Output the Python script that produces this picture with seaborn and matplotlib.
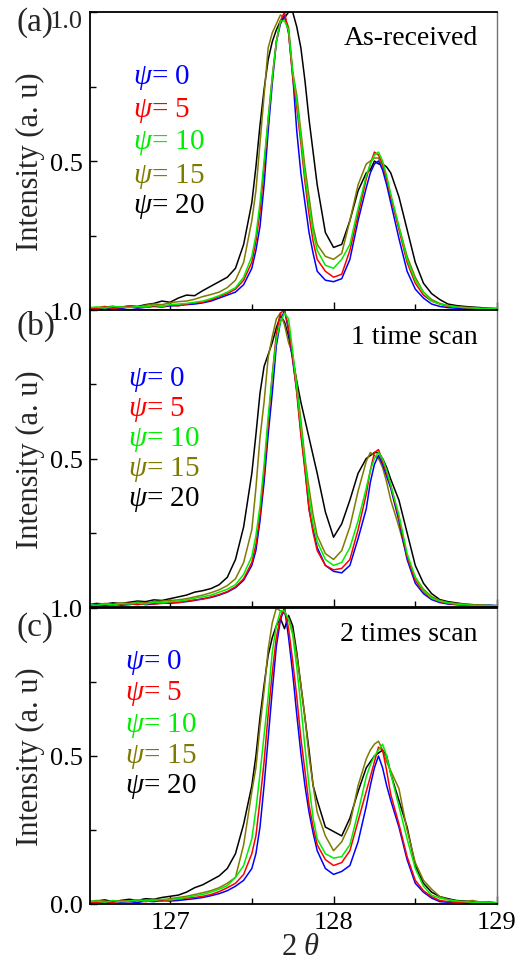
import numpy as np
import pandas as pd
import matplotlib
matplotlib.use("Agg")
import matplotlib.pyplot as plt
import seaborn as sns
from matplotlib.ticker import FixedLocator, FixedFormatter, NullFormatter

# ---------------- data ----------------
two_theta = [126.50, 126.55, 126.60, 126.65, 126.70, 126.75, 126.80, 126.85, 126.90, 126.95, 127.00,
             127.05, 127.10, 127.15, 127.20, 127.25, 127.30, 127.35, 127.40, 127.45, 127.50,
             127.525, 127.55, 127.575, 127.60, 127.625, 127.65, 127.675, 127.70, 127.725, 127.75,
             127.775, 127.80, 127.825, 127.85, 127.875, 127.90,
             127.95, 128.00, 128.05, 128.10, 128.15, 128.20,
             128.225, 128.25, 128.275, 128.30, 128.325, 128.35,
             128.40, 128.45, 128.50, 128.55, 128.60, 128.65, 128.70, 128.75, 128.80, 128.85,
             128.90, 128.95, 129.00]

psi_values = [0, 5, 10, 15, 20]
psi_colors = ["#0000ff", "#ff0000", "#00ee00", "#7f7a00", "#000000"]
panel_tags = ["(a)", "(b)", "(c)"]
panel_titles = ["As-received", "1 time scan", "2 times scan"]

# (a) As-received
a_psi0 = [0.004, 0.006, 0.003, 0.008, 0.005, 0.010, 0.006, 0.009, 0.012, 0.010, 0.014,
          0.015, 0.018, 0.020, 0.024, 0.030, 0.040, 0.050, 0.060, 0.085, 0.14,
          0.20, 0.28, 0.42, 0.60, 0.76, 0.90, 0.96, 0.99, 0.93, 0.79, 0.60, 0.46, 0.36, 0.26, 0.19, 0.13,
          0.10, 0.095, 0.105, 0.17, 0.30, 0.41,
          0.46, 0.49, 0.50, 0.47, 0.42, 0.36,
          0.24, 0.13, 0.07, 0.04, 0.02, 0.012, 0.008, 0.006, 0.005, 0.004, 0.003, 0.004, 0.003]
a_psi5 = [0.006, 0.004, 0.010, 0.006, 0.008, 0.012, 0.008, 0.010, 0.014, 0.012, 0.016,
          0.014, 0.020, 0.024, 0.026, 0.034, 0.045, 0.055, 0.070, 0.10, 0.16,
          0.23, 0.33, 0.48, 0.64, 0.78, 0.90, 0.97, 1.00, 0.93, 0.78, 0.68, 0.56, 0.43, 0.32, 0.23, 0.17,
          0.13, 0.11, 0.12, 0.20, 0.32, 0.44,
          0.49, 0.53, 0.52, 0.49, 0.44, 0.38,
          0.27, 0.16, 0.09, 0.05, 0.03, 0.02, 0.012, 0.010, 0.008, 0.006, 0.005, 0.004, 0.004]
a_psi10 = [0.008, 0.010, 0.006, 0.012, 0.010, 0.008, 0.012, 0.010, 0.016, 0.012, 0.018,
           0.020, 0.022, 0.026, 0.030, 0.038, 0.048, 0.060, 0.075, 0.11, 0.18,
           0.25, 0.36, 0.50, 0.64, 0.78, 0.90, 0.97, 0.97, 0.94, 0.80, 0.70, 0.58, 0.45, 0.35, 0.26, 0.20,
           0.15, 0.14, 0.17, 0.22, 0.34, 0.45,
           0.49, 0.52, 0.53, 0.50, 0.45, 0.39,
           0.28, 0.17, 0.10, 0.06, 0.03, 0.02, 0.014, 0.010, 0.008, 0.007, 0.005, 0.005, 0.004]
a_psi15 = [0.006, 0.008, 0.012, 0.008, 0.010, 0.014, 0.010, 0.016, 0.020, 0.018, 0.024,
           0.028, 0.030, 0.036, 0.045, 0.052, 0.060, 0.075, 0.10, 0.16, 0.30,
           0.40, 0.56, 0.72, 0.88, 0.93, 0.96, 0.99, 0.98, 0.95, 0.80, 0.72, 0.60, 0.48, 0.38, 0.28, 0.22,
           0.18, 0.17, 0.19, 0.30, 0.42, 0.49,
           0.50, 0.51, 0.51, 0.48, 0.44, 0.38,
           0.28, 0.18, 0.11, 0.06, 0.035, 0.022, 0.015, 0.012, 0.009, 0.008, 0.006, 0.005, 0.004]
a_psi20 = [0.008, 0.006, 0.010, 0.012, 0.008, 0.014, 0.012, 0.018, 0.022, 0.030, 0.026,
           0.040, 0.050, 0.048, 0.065, 0.080, 0.095, 0.11, 0.14, 0.22, 0.36,
           0.48, 0.62, 0.74, 0.84, 0.90, 0.94, 0.97, 0.98, 1.00, 1.00, 0.95, 0.88, 0.77, 0.64, 0.53, 0.42,
           0.26, 0.21, 0.22, 0.30, 0.40, 0.46,
           0.47, 0.50, 0.49, 0.49, 0.48, 0.46,
           0.38, 0.27, 0.16, 0.09, 0.055, 0.035, 0.02, 0.015, 0.012, 0.010, 0.008, 0.006, 0.005]

# (b) 1 time scan
b_psi0 = [0.004, 0.008, 0.005, 0.010, 0.006, 0.008, 0.012, 0.008, 0.010, 0.014, 0.012,
          0.016, 0.018, 0.022, 0.028, 0.032, 0.040, 0.050, 0.065, 0.09, 0.14,
          0.19, 0.29, 0.42, 0.58, 0.72, 0.88, 0.96, 1.00, 0.93, 0.83, 0.73, 0.59, 0.47, 0.33, 0.26, 0.20,
          0.14, 0.12, 0.115, 0.14, 0.23, 0.33,
          0.42, 0.48, 0.51, 0.48, 0.44, 0.40,
          0.29, 0.16, 0.08, 0.045, 0.025, 0.015, 0.010, 0.008, 0.006, 0.005, 0.004, 0.006, 0.004]
b_psi5 = [0.006, 0.004, 0.009, 0.006, 0.010, 0.012, 0.008, 0.012, 0.010, 0.012, 0.015,
          0.014, 0.020, 0.024, 0.026, 0.034, 0.042, 0.052, 0.068, 0.095, 0.15,
          0.21, 0.31, 0.45, 0.62, 0.78, 0.92, 0.99, 1.00, 0.94, 0.84, 0.72, 0.58, 0.46, 0.33, 0.25, 0.19,
          0.14, 0.125, 0.13, 0.16, 0.26, 0.38,
          0.46, 0.52, 0.53, 0.49, 0.45, 0.41,
          0.30, 0.17, 0.09, 0.05, 0.03, 0.018, 0.012, 0.009, 0.007, 0.006, 0.005, 0.004, 0.004]
b_psi10 = [0.008, 0.006, 0.010, 0.008, 0.012, 0.010, 0.014, 0.010, 0.016, 0.014, 0.018,
           0.020, 0.024, 0.030, 0.034, 0.040, 0.050, 0.060, 0.075, 0.11, 0.17,
           0.24, 0.34, 0.48, 0.64, 0.78, 0.90, 0.96, 0.99, 0.97, 0.86, 0.74, 0.61, 0.49, 0.37, 0.28, 0.22,
           0.16, 0.14, 0.15, 0.20, 0.29, 0.40,
           0.46, 0.50, 0.52, 0.50, 0.46, 0.41,
           0.31, 0.18, 0.10, 0.055, 0.03, 0.02, 0.014, 0.010, 0.008, 0.006, 0.005, 0.005, 0.004]
b_psi15 = [0.010, 0.008, 0.012, 0.010, 0.014, 0.012, 0.016, 0.014, 0.018, 0.020, 0.022,
           0.024, 0.028, 0.034, 0.040, 0.048, 0.058, 0.072, 0.095, 0.15, 0.26,
           0.40, 0.57, 0.69, 0.84, 0.91, 0.97, 0.99, 0.95, 0.89, 0.85, 0.75, 0.63, 0.50, 0.40, 0.31, 0.24,
           0.18, 0.16, 0.19, 0.27, 0.39, 0.49,
           0.52, 0.51, 0.50, 0.47, 0.42, 0.36,
           0.27, 0.17, 0.10, 0.06, 0.035, 0.022, 0.015, 0.012, 0.009, 0.007, 0.006, 0.005, 0.004]
b_psi20 = [0.008, 0.012, 0.010, 0.014, 0.012, 0.016, 0.020, 0.018, 0.024, 0.022, 0.028,
           0.034, 0.040, 0.050, 0.055, 0.062, 0.075, 0.10, 0.16, 0.27, 0.45,
           0.58, 0.72, 0.81, 0.85, 0.89, 0.94, 0.98, 0.96, 0.91, 0.84, 0.76, 0.69, 0.63, 0.57, 0.51, 0.45,
           0.32, 0.235, 0.28, 0.36, 0.45, 0.50,
           0.51, 0.52, 0.52, 0.50, 0.47, 0.43,
           0.36, 0.25, 0.14, 0.08, 0.045, 0.025, 0.018, 0.014, 0.010, 0.008, 0.006, 0.005, 0.005]

# (c) 2 times scan
c_psi0 = [0.005, 0.008, 0.004, 0.010, 0.006, 0.008, 0.005, 0.010, 0.008, 0.012, 0.010,
          0.012, 0.015, 0.018, 0.022, 0.028, 0.035, 0.045, 0.060, 0.08, 0.12,
          0.17, 0.26, 0.40, 0.56, 0.72, 0.87, 0.96, 1.00, 0.90, 0.78, 0.64, 0.51, 0.40, 0.31, 0.24, 0.18,
          0.12, 0.10, 0.11, 0.13, 0.21, 0.33,
          0.40, 0.46, 0.50, 0.46, 0.40, 0.35,
          0.26, 0.15, 0.07, 0.04, 0.02, 0.008, 0.006, 0.004, 0.005, 0.003, 0.004, 0.003, 0.003]
c_psi5 = [0.006, 0.004, 0.008, 0.006, 0.010, 0.008, 0.012, 0.008, 0.012, 0.010, 0.014,
          0.016, 0.020, 0.022, 0.026, 0.032, 0.042, 0.055, 0.070, 0.10, 0.17,
          0.23, 0.35, 0.48, 0.64, 0.78, 0.90, 0.97, 1.00, 0.93, 0.82, 0.70, 0.56, 0.45, 0.335, 0.26, 0.20,
          0.15, 0.13, 0.14, 0.18, 0.28, 0.38,
          0.43, 0.48, 0.53, 0.52, 0.45, 0.37,
          0.27, 0.16, 0.08, 0.045, 0.025, 0.012, 0.008, 0.006, 0.005, 0.004, 0.004, 0.003, 0.003]
c_psi10 = [0.008, 0.010, 0.006, 0.012, 0.008, 0.010, 0.014, 0.010, 0.012, 0.016, 0.014,
           0.018, 0.022, 0.028, 0.032, 0.040, 0.050, 0.062, 0.090, 0.13, 0.22,
           0.32, 0.44, 0.57, 0.70, 0.85, 0.94, 0.99, 0.99, 0.96, 0.91, 0.80, 0.67, 0.53, 0.40, 0.29, 0.22,
           0.17, 0.155, 0.16, 0.20, 0.31, 0.43,
           0.47, 0.50, 0.52, 0.54, 0.50, 0.44,
           0.33, 0.22, 0.12, 0.06, 0.03, 0.02, 0.014, 0.010, 0.008, 0.006, 0.006, 0.005, 0.004]
c_psi15 = [0.008, 0.012, 0.010, 0.006, 0.012, 0.010, 0.014, 0.012, 0.016, 0.014, 0.018,
           0.022, 0.026, 0.032, 0.038, 0.045, 0.055, 0.070, 0.09, 0.20, 0.38,
           0.46, 0.60, 0.72, 0.86, 0.95, 1.00, 0.99, 0.98, 0.965, 0.92, 0.84, 0.74, 0.63, 0.50, 0.40, 0.31,
           0.23, 0.18, 0.21, 0.27, 0.40, 0.49,
           0.52, 0.54, 0.55, 0.52, 0.48, 0.45,
           0.39, 0.25, 0.14, 0.08, 0.05, 0.025, 0.015, 0.010, 0.008, 0.012, 0.006, 0.008, 0.004]
c_psi20 = [0.006, 0.010, 0.014, 0.008, 0.012, 0.016, 0.012, 0.018, 0.016, 0.022, 0.026,
           0.030, 0.040, 0.055, 0.065, 0.080, 0.095, 0.12, 0.17, 0.27, 0.40,
           0.50, 0.63, 0.74, 0.84, 0.90, 0.94, 0.965, 0.93, 0.975, 0.94, 0.85, 0.74, 0.63, 0.52, 0.40, 0.35,
           0.26, 0.245, 0.23, 0.29, 0.38, 0.46,
           0.48, 0.50, 0.51, 0.52, 0.50, 0.44,
           0.35, 0.26, 0.13, 0.07, 0.04, 0.025, 0.018, 0.012, 0.010, 0.008, 0.006, 0.005, 0.004]

panels = [
    [a_psi0, a_psi5, a_psi10, a_psi15, a_psi20],
    [b_psi0, b_psi5, b_psi10, b_psi15, b_psi20],
    [c_psi0, c_psi5, c_psi10, c_psi15, c_psi20],
]

# ---------------- style ----------------
sns.set_theme(style="white")
plt.rcParams["font.family"] = ["Liberation Serif", "DejaVu Serif"]
plt.rcParams["mathtext.fontset"] = "custom"
plt.rcParams["mathtext.it"] = "Liberation Serif:italic"
plt.rcParams["mathtext.rm"] = "Liberation Serif"
plt.rcParams["mathtext.default"] = "it"

W, H = 520, 962
fig = plt.figure(figsize=(W / 100, H / 100), dpi=100)

left_px, right_px = 90, 497
panel_px = [(13, 311), (311, 608), (609, 905)]
legend_pos = [
    (0.106, [0.782, 0.674, 0.564, 0.453, 0.349]),
    (0.093, [0.768, 0.670, 0.569, 0.465, 0.364]),
    (0.086, [0.818, 0.713, 0.608, 0.500, 0.402]),
]
title_y = [0.916, 0.912, 0.915]
tag_y_px = [23, 326, 628]

palette = dict(zip(psi_values, psi_colors))
draw_order = [20, 15, 0, 5, 10]

for i, (top, bot) in enumerate(panel_px):
    ax = fig.add_axes([left_px / W, 1 - bot / H, (right_px - left_px) / W, (bot - top) / H])
    rows = []
    for psi, series in zip(psi_values, panels[i]):
        for x, y in zip(two_theta, series):
            rows.append((x, y, psi))
    df = pd.DataFrame(rows, columns=["two_theta", "intensity", "psi"])
    sns.lineplot(data=df, x="two_theta", y="intensity", hue="psi", hue_order=draw_order,
                 palette=palette, estimator=None, sort=False, legend=False, lw=1.1, ax=ax)

    ax.set_xlim(126.51, 129.0)
    ax.set_ylim(0, 1.0)
    ax.set_xlabel("")
    ax.set_ylabel("Intensity (a. u)", fontsize=22)
    ax.yaxis.set_label_coords(-0.11, 0.5)

    ax.xaxis.set_major_locator(FixedLocator([127, 128, 129]))
    ax.xaxis.set_minor_locator(FixedLocator([127.5, 128.5]))
    ax.yaxis.set_major_locator(FixedLocator([0.0, 0.5, 1.0]))
    ax.yaxis.set_minor_locator(FixedLocator([0.25, 0.75]))
    if i == 2:
        ax.yaxis.set_major_formatter(FixedFormatter(["0.0", "0.5", "1.0"]))
        ax.xaxis.set_major_formatter(FixedFormatter(["127", "128", "129"]))
    elif i == 1:
        ax.yaxis.set_major_formatter(FixedFormatter(["", "0.5", "1.0"]))
        ax.xaxis.set_major_formatter(NullFormatter())
    else:
        ax.yaxis.set_major_formatter(FixedFormatter(["", "0.5", ""]))
        ax.xaxis.set_major_formatter(NullFormatter())
        ax.annotate("1.0", xy=(0, 1), xycoords="axes fraction", xytext=(-5, -6.5),
                    textcoords="offset points", ha="right", va="center", fontsize=19)

    ax.tick_params(axis="both", which="both", direction="in", labelsize=19,
                   left=True, bottom=True, top=False, right=False, colors="black")
    ax.tick_params(axis="x", which="major", length=6, width=1, pad=5)
    ax.tick_params(axis="x", which="minor", length=4, width=1)
    ax.tick_params(axis="y", which="major", length=5, width=1, pad=5)
    ax.tick_params(axis="y", which="minor", length=4, width=1)

    for side in ["left", "bottom", "top"]:
        ax.spines[side].set_color("black")
        ax.spines[side].set_linewidth(1.3)
    ax.spines["right"].set_color("0.45")
    ax.spines["right"].set_linewidth(1.0)

    ax.text(0.953, title_y[i], panel_titles[i], transform=ax.transAxes,
            ha="right", va="center", fontsize=20, color="black")

    lx, lys = legend_pos[i]
    for psi, col, ly in zip(psi_values, psi_colors, lys):
        ax.text(lx, ly, r"$\psi$= " + str(psi), transform=ax.transAxes,
                ha="left", va="center", fontsize=21, color=col)

    fig.text(16 / W, 1 - tag_y_px[i] / H, panel_tags[i], ha="left", va="center", fontsize=24)

fig.text(301 / W, 1 - 948 / H, r"2 $\theta$", ha="center", va="center", fontsize=22)

fig.savefig("out.png", dpi=100)
